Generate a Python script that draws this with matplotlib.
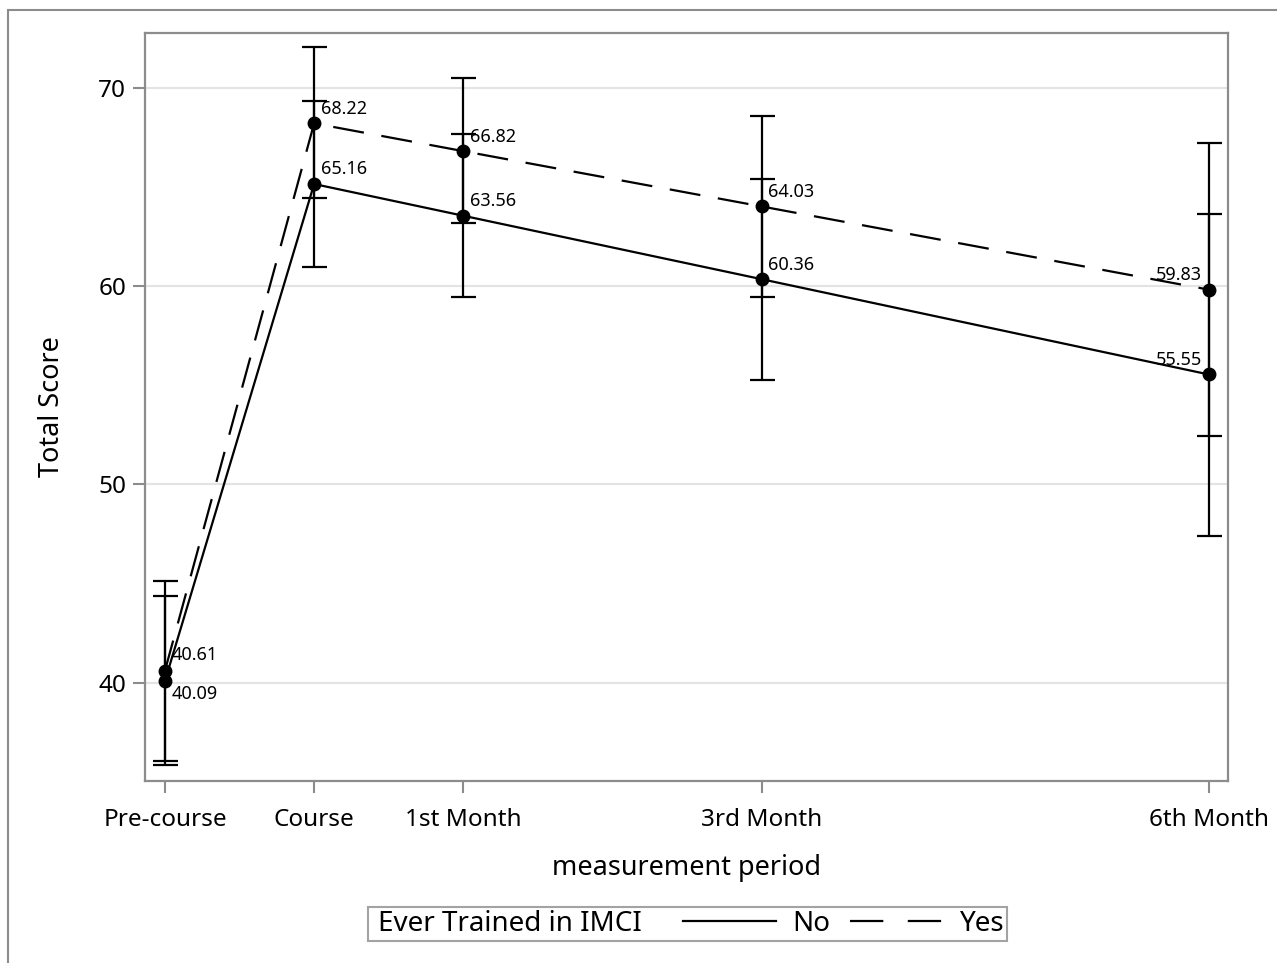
import matplotlib.pyplot as plt
import matplotlib.patches as patches
from matplotlib.lines import Line2D
import numpy as np

plt.rcParams['font.family'] = ['Noto Sans', 'DejaVu Sans']

periods = ['Pre-course', 'Course', '1st Month', '3rd Month', '6th Month']
period_pos = [-1, 0, 1, 3, 6]

no_mean = [40.09, 65.16, 63.56, 60.36, 55.55]
no_upper = [44.39, 69.34, 67.68, 65.42, 63.64]
no_lower = [35.86, 60.97, 59.46, 55.29, 47.42]

yes_mean = [40.61, 68.22, 66.82, 64.03, 59.83]
yes_upper = [45.15, 72.06, 70.49, 68.59, 67.21]
yes_lower = [36.06, 64.43, 63.17, 59.46, 52.44]

DASH = (0, (14, 8))

fig = plt.figure(figsize=(12.77, 9.63), dpi=100)
ax = fig.add_axes([145 / 1277, 1 - 781 / 963, (1228 - 145) / 1277, (781 - 33) / 963])

# outer frame
fig.patches.append(patches.Rectangle((8 / 1277, -0.1), 1.2, 1.1 - 10 / 963,
                                     transform=fig.transFigure, fill=False,
                                     edgecolor='#8c8c8c', lw=1.5, clip_on=False))

x = np.array(period_pos)

def draw_group(mean, lower, upper, ls):
    mean = np.array(mean)
    err = [mean - np.array(lower), np.array(upper) - mean]
    ax.plot(x, mean, color='black', lw=1.6, linestyle=ls, zorder=3)
    ax.errorbar(x, mean, yerr=err, fmt='none', ecolor='black', elinewidth=1.6,
                capsize=9, capthick=1.6, zorder=4)
    ax.plot(x, mean, 'o', color='black', ms=9, zorder=5)

draw_group(no_mean, no_lower, no_upper, '-')
draw_group(yes_mean, yes_lower, yes_upper, DASH)

# value labels
for i, (xi, v) in enumerate(zip(x, no_mean)):
    if i == len(x) - 1:
        off, ha = (-5, 10.5), 'right'
    elif i == 0:
        off, ha = (5, -9.5), 'left'
    else:
        off, ha = (5, 10.5), 'left'
    ax.annotate(f'{v:.2f}', (xi, v), xytext=off, textcoords='offset points',
                ha=ha, va='center', fontsize=13)
for i, (xi, v) in enumerate(zip(x, yes_mean)):
    if i == len(x) - 1:
        off, ha = (-5, 10.5), 'right'
    elif i == 0:
        off, ha = (5, 11.5), 'left'
    else:
        off, ha = (5, 10.5), 'left'
    ax.annotate(f'{v:.2f}', (xi, v), xytext=off, textcoords='offset points',
                ha=ha, va='center', fontsize=13)

ax.set_xlim(-1.134, 6.128)
ax.set_ylim(35.04, 72.78)
ax.set_xticks(period_pos)
ax.set_xticklabels(periods)
ax.set_yticks([40, 50, 60, 70])
ax.yaxis.grid(True, color='#e3e3e3', lw=1.5)
ax.set_axisbelow(True)
for s in ax.spines.values():
    s.set_color('#8c8c8c')
    s.set_linewidth(1.6)
ax.tick_params(axis='both', colors='#8c8c8c', labelcolor='black', length=8.5,
               width=1.5, labelsize=17.5)
ax.tick_params(axis='x', pad=11)
ax.tick_params(axis='y', pad=5)
ax.set_xlabel('measurement period', fontsize=19.5, labelpad=16)
ax.set_ylabel('Total Score', fontsize=19.5, labelpad=23)

handles = [Line2D([], [], linestyle='none'),
           Line2D([], [], color='black', lw=1.6),
           Line2D([], [], color='black', lw=1.6, linestyle=(0, (15, 11)))]
labels = ['Ever Trained in IMCI   ', 'No', 'Yes']
leg = fig.legend(handles, labels, loc='center', bbox_to_anchor=(0.5384, 0.0405),
                 ncol=3, fontsize=20, frameon=True, fancybox=False,
                 edgecolor='#8c8c8c', handlelength=3.35, handletextpad=0.6,
                 columnspacing=0.7, borderpad=0.1, borderaxespad=0)
leg.get_frame().set_linewidth(1.5)
# no handle space in front of the title entry
leg._legend_handle_box.get_children()[0].get_children()[0].get_children()[0].width = -7

fig.savefig('out.png', dpi=100)
